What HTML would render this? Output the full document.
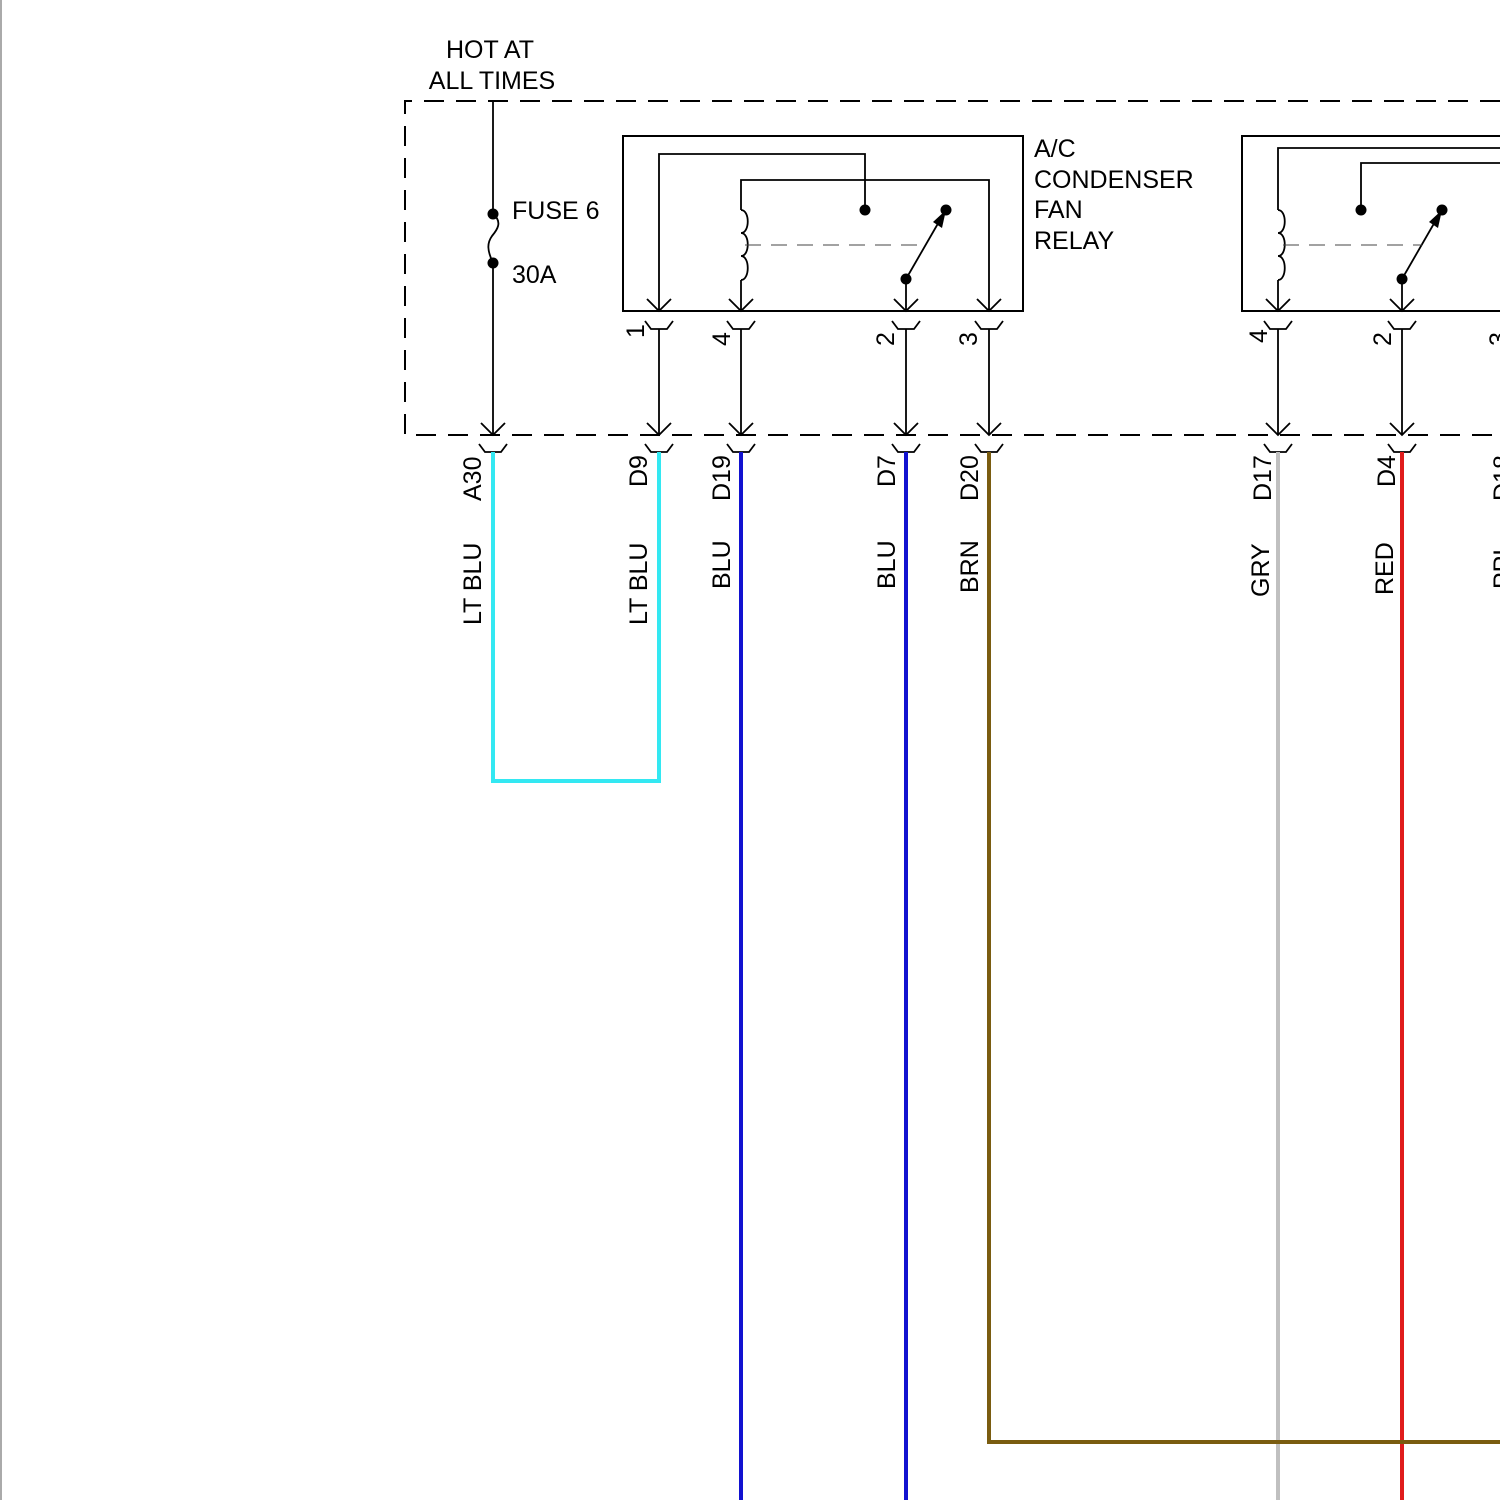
<!DOCTYPE html>
<html><head><meta charset="utf-8"><style>
html,body{margin:0;padding:0;background:#fff;}
svg{display:block;}
text{font-family:"Liberation Sans",Arial,sans-serif;font-size:25px;fill:#000;}
</style></head><body>
<svg width="1500" height="1500" viewBox="0 0 1500 1500" xmlns="http://www.w3.org/2000/svg">
<defs>
<g id="pin" fill="none" stroke="#000" stroke-width="1.8">
<path d="M-12,299 L0,311 L12,299"/>
<path d="M-14,321 L-8,329 L8,329 L14,321"/>
<path d="M0,329 L0,435"/>
<path d="M-12,423 L0,435 L12,423"/>
<path d="M-14,444 L-8,452 L8,452 L14,444"/>
</g>
<path id="coil" d="M0,210 c9,0 9,23 0,23 c9,0 9,23 0,23 c9,0 9,24 0,24" fill="none" stroke="#000" stroke-width="1.8"/>
</defs>
<line x1="1" y1="0" x2="1" y2="1500" stroke="#aaa" stroke-width="2"/>
<text x="490" y="58" text-anchor="middle">HOT AT</text>
<text x="492" y="89" text-anchor="middle">ALL TIMES</text>
<path d="M1500,101 L405,101 L405,435 L1500,435" fill="none" stroke="#000" stroke-width="2" stroke-dasharray="20,12"/>
<g stroke="#000" stroke-width="1.8" fill="none">
<path d="M493,101 L493,214"/>
<path d="M493,214 c10,8 4,16 -1,22 c-5,7 -5,14 1,27"/>
<path d="M493,263 L493,435"/>
<path d="M481,423 L493,435 L505,423"/>
<path d="M479,444 L485,452 L501,452 L507,444"/>
</g>
<circle cx="493" cy="214" r="5.5"/><circle cx="493" cy="263" r="5.5"/>
<text x="512" y="219">FUSE 6</text>
<text x="512" y="283">30A</text>
<rect x="623" y="136" width="400" height="175" fill="none" stroke="#000" stroke-width="2"/>
<g stroke="#000" stroke-width="1.8" fill="none">
<path d="M659,311 L659,154 L865,154 L865,210"/>
<path d="M989,311 L989,180 L741,180 L741,210"/>
<path d="M741,280 L741,311"/>
<path d="M906,279 L906,311"/>
<path d="M906,279 L940,220"/>
</g>
<use href="#coil" x="741"/>
<line x1="745" y1="245" x2="925" y2="245" stroke="#444" stroke-width="1" stroke-dasharray="16,10"/>
<path d="M946,210 L933,222 L942,228 Z" fill="#000"/>
<circle cx="865" cy="210" r="5.5"/><circle cx="946" cy="210" r="5.5"/><circle cx="906" cy="279" r="5.5"/>
<use href="#pin" x="659"/><use href="#pin" x="741"/><use href="#pin" x="906"/><use href="#pin" x="989"/>
<text x="1034" y="157">A/C</text>
<text x="1034" y="188">CONDENSER</text>
<text x="1034" y="218">FAN</text>
<text x="1034" y="249">RELAY</text>
<path d="M1500,136 L1242,136 L1242,311 L1500,311" fill="none" stroke="#000" stroke-width="2"/>
<g stroke="#000" stroke-width="1.8" fill="none">
<path d="M1278,210 L1278,148 L1500,148"/>
<path d="M1361,210 L1361,163 L1500,163"/>
<path d="M1278,280 L1278,311"/>
<path d="M1402,279 L1402,311"/>
<path d="M1402,279 L1436,220"/>
</g>
<use href="#coil" x="1278"/>
<line x1="1283" y1="245" x2="1422" y2="245" stroke="#444" stroke-width="1" stroke-dasharray="16,10"/>
<path d="M1442,210 L1429,222 L1438,228 Z" fill="#000"/>
<circle cx="1361" cy="210" r="5.5"/><circle cx="1442" cy="210" r="5.5"/><circle cx="1402" cy="279" r="5.5"/>
<use href="#pin" x="1278"/><use href="#pin" x="1402"/>
<g fill="none" stroke-width="4">
<path d="M493,452 L493,781 L659,781 L659,452" stroke="#33e8f2"/>
<path d="M741,452 L741,1500" stroke="#1212d0"/>
<path d="M906,452 L906,1500" stroke="#1212d0"/>
<path d="M1278,452 L1278,1500" stroke="#c0c0c0"/>
<path d="M1402,452 L1402,1500" stroke="#e01c1c"/>
<path d="M989,452 L989,1442 L1500,1442" stroke="#7a5c10"/>
</g>
<g>
<text transform="translate(644,338) rotate(-90)">1</text>
<text transform="translate(730,346) rotate(-90)">4</text>
<text transform="translate(894,346) rotate(-90)">2</text>
<text transform="translate(977,346) rotate(-90)">3</text>
<text transform="translate(1267,343) rotate(-90)">4</text>
<text transform="translate(1391,346) rotate(-90)">2</text>
<text transform="translate(1507,346) rotate(-90)">3</text>
<text transform="translate(481,501) rotate(-90)">A30</text>
<text transform="translate(481,625) rotate(-90)">LT BLU</text>
<text transform="translate(647,487) rotate(-90)">D9</text>
<text transform="translate(647,625) rotate(-90)">LT BLU</text>
<text transform="translate(730,501) rotate(-90)">D19</text>
<text transform="translate(730,589) rotate(-90)">BLU</text>
<text transform="translate(895,487) rotate(-90)">D7</text>
<text transform="translate(895,589) rotate(-90)">BLU</text>
<text transform="translate(978,501) rotate(-90)">D20</text>
<text transform="translate(978,593) rotate(-90)">BRN</text>
<text transform="translate(1271,501) rotate(-90)">D17</text>
<text transform="translate(1269,597) rotate(-90)">GRY</text>
<text transform="translate(1395,487) rotate(-90)">D4</text>
<text transform="translate(1393,595) rotate(-90)">RED</text>
<text transform="translate(1511,501) rotate(-90)">D18</text>
<text transform="translate(1511,589) rotate(-90)">PPL</text>
</g>
</svg>
</body></html>
